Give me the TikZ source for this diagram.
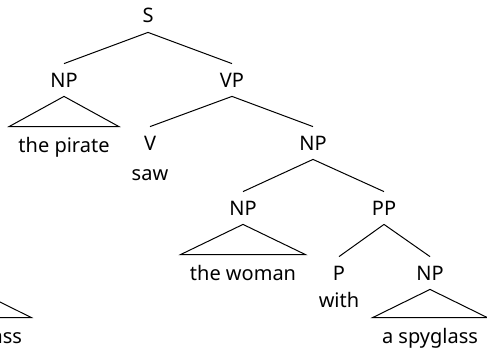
\documentclass[tikz,border=0pt]{standalone}
\usepackage{fontspec}
\setmainfont{Noto Sans}
\begin{document}
\begin{tikzpicture}[x=0.5pt,y=-0.5pt,
  font=\fontsize{10}{12}\selectfont,
  cat/.style={inner xsep=1pt, inner ysep=4.5pt, text height=7pt, text depth=0pt},
  leaf/.style={anchor=base, inner xsep=4.5pt, inner ysep=4.5pt, text height=8pt, text depth=0pt},
  word/.style={anchor=base},
  edge/.style={line width=0.5pt},
  roof/.style={line width=0.5pt, line join=miter}]
\useasboundingbox (0,0) rectangle (487,348);
\clip (0,0) rectangle (487,348);
% nodes
\node[cat] (S) at (148,16) {S};
\node[cat] (NP1) at (64,80) {NP};
\node[cat] (VP) at (232,80) {VP};
\node[leaf] (pirate) at (64,152) {the pirate};
\node[cat] (V) at (150,143) {V};
\node[word] (saw) at (150,180) {saw};
\node[cat] (NP2) at (313,143) {NP};
\node[cat] (NP3) at (243,208) {NP};
\node[cat] (PP) at (384,208) {PP};
\node[leaf] (woman) at (243,280) {the woman};
\node[cat] (P) at (339,273) {P};
\node[word] (with) at (339,307) {with};
\node[cat] (NP4) at (430,273) {NP};
\node[leaf] (spy) at (430,343) {a spyglass};
% fragment of a neighbouring tree at the left edge
\coordinate (apexB) at (-26,289);
\node[leaf] (spyB) at (-26,343) {a spyglass};
% edges
\draw[edge] (S.south) -- (NP1.north);
\draw[edge] (S.south) -- (VP.north);
\draw[edge] (VP.south) -- (V.north);
\draw[edge] (VP.south) -- (NP2.north);
\draw[edge] (NP2.south) -- (NP3.north);
\draw[edge] (NP2.south) -- (PP.north);
\draw[edge] (PP.south) -- (P.north);
\draw[edge] (PP.south) -- (NP4.north);
% roofs
\draw[roof] (NP1.south) -- (pirate.north west) -- (pirate.north east) -- cycle;
\draw[roof] (NP3.south) -- (woman.north west) -- (woman.north east) -- cycle;
\draw[roof] (NP4.south) -- (spy.north west) -- (spy.north east) -- cycle;
\draw[roof] (apexB) -- (spyB.north west) -- (spyB.north east) -- cycle;
\end{tikzpicture}
\end{document}
